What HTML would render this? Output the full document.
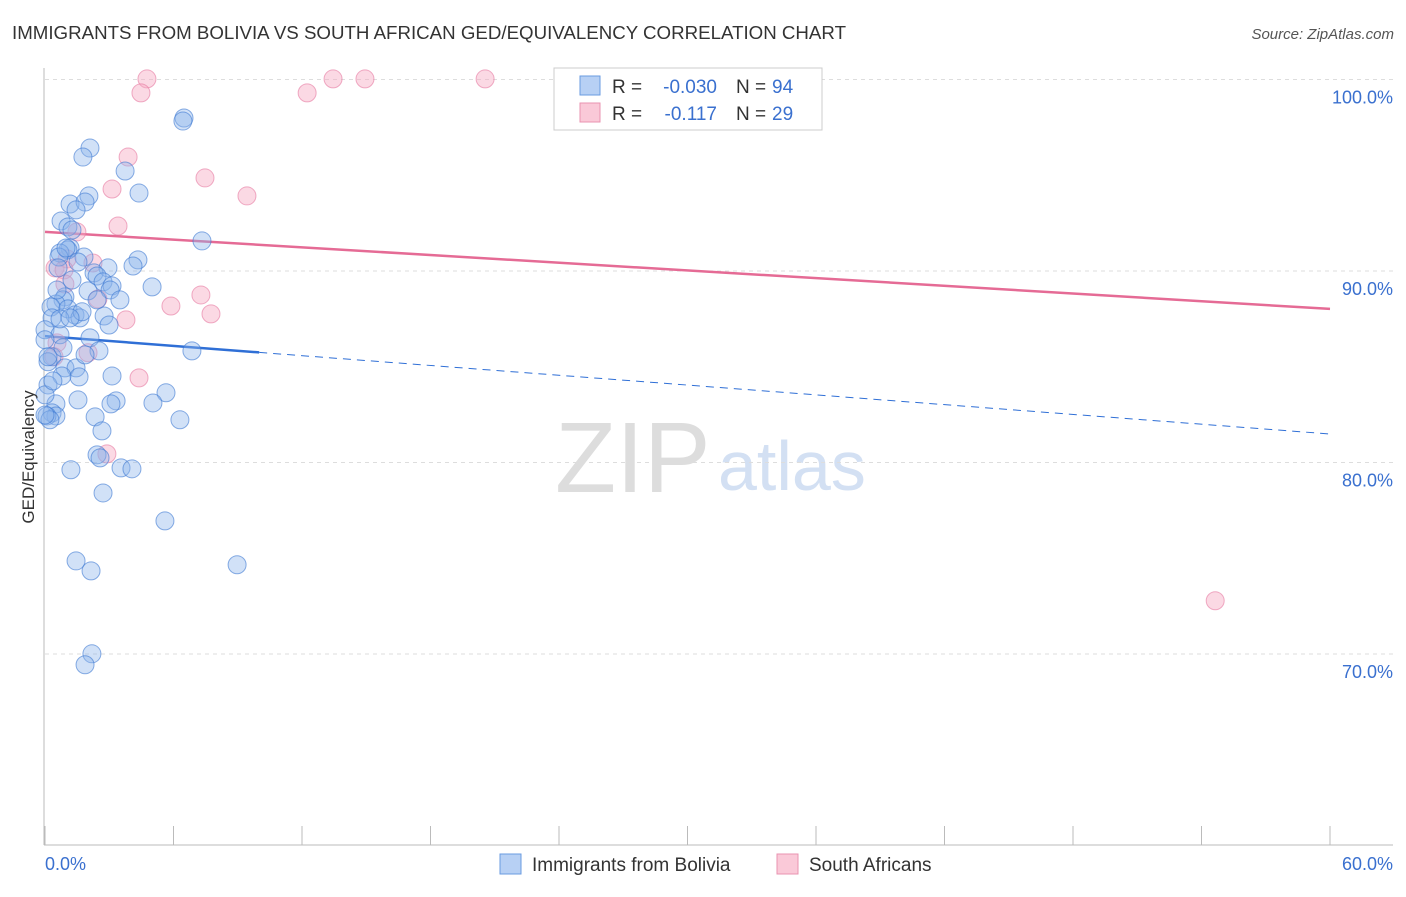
<!DOCTYPE html>
<html><head><meta charset="utf-8"><style>
body{margin:0;background:#fff;font-family:"Liberation Sans",sans-serif;}
svg text{font-family:"Liberation Sans",sans-serif;}
</style></head><body>
<svg id="chart" width="1406" height="892" viewBox="0 0 1406 892" xmlns="http://www.w3.org/2000/svg">
<text x="12" y="39" font-size="18" fill="#333" textLength="834" lengthAdjust="spacingAndGlyphs">IMMIGRANTS FROM BOLIVIA VS SOUTH AFRICAN GED/EQUIVALENCY CORRELATION CHART</text>
<text x="1394" y="39" font-size="15" fill="#555" text-anchor="end" font-style="italic">Source: ZipAtlas.com</text>
<text x="555" y="492" font-size="100" fill="#ddd" font-family="Liberation Serif">ZIP</text>
<text x="718" y="490" font-size="70" fill="#d3e0f3">atlas</text>
<g id="grid"></g><g id="axes"></g><g id="trend"></g><g id="points"></g>
<text transform="translate(34,457) rotate(-90)" font-size="17" fill="#333" text-anchor="middle">GED/Equivalency</text>
<g>
<rect x="554" y="68" width="268" height="62" fill="#fff" stroke="#ccc"/>
<rect x="580" y="76" width="20" height="19" fill="#b7d0f4" stroke="#6a9be0"/>
<rect x="580" y="103" width="20" height="19" fill="#fac9d8" stroke="#e993b0"/>
<text x="612" y="93" font-size="19" fill="#333">R =</text>
<text x="717" y="93" font-size="19" fill="#3a70cf" text-anchor="end">-0.030</text>
<text x="736" y="93" font-size="19" fill="#333">N =</text>
<text x="772" y="93" font-size="19" fill="#3a70cf">94</text>
<text x="612" y="120" font-size="19" fill="#333">R =</text>
<text x="717" y="120" font-size="19" fill="#3a70cf" text-anchor="end">-0.117</text>
<text x="736" y="120" font-size="19" fill="#333">N =</text>
<text x="772" y="120" font-size="19" fill="#3a70cf">29</text>
</g>
<g>
<rect x="500" y="854" width="21" height="20" fill="#b7d0f4" stroke="#6a9be0"/>
<text x="532" y="871" font-size="19" fill="#333">Immigrants from Bolivia</text>
<rect x="777" y="854" width="21" height="20" fill="#fac9d8" stroke="#e993b0"/>
<text x="809" y="871" font-size="19" fill="#333">South Africans</text>
</g>
</svg>
<script>
const blueX=[6.49,6.44,2.10,1.77,3.74,4.39,2.05,1.17,1.87,1.45,0.75,1.07,1.26,7.33,1.17,1.07,0.70,0.65,1.82,4.34,4.11,2.94,2.29,2.43,1.26,2.71,3.13,5.00,0.93,0.84,0.51,0.28,1.07,1.40,1.63,2.76,2.99,1.73,0.33,0,0.70,2.10,2.52,6.86,0.33,0.14,0.93,1.45,1.59,0.79,3.13,5.65,5.04,3.32,3.08,1.54,0.51,0.33,0.51,2.34,6.30,2.66,2.43,2.57,3.55,4.06,1.21,2.71,5.60,1.45,2.15,8.97,2.19,1.87,0,0.14,0,0.37,2.01,0.70,0.09,1.87,1.17,0.56,3.04,2.43,1.54,0.98,0.23,0.14,0.84,0,0.61,3.50];
const blueY=[97.99,97.83,96.42,95.95,95.22,94.07,93.92,93.50,93.60,93.19,92.61,92.30,92.14,91.57,91.20,91.10,90.94,90.73,90.73,90.58,90.26,90.16,89.90,89.74,89.53,89.43,89.22,89.17,88.65,88.49,88.28,88.12,88.02,87.71,87.55,87.65,87.18,87.87,87.55,86.93,86.67,86.51,85.83,85.83,85.52,85.26,84.94,84.94,84.47,84.52,84.52,83.64,83.11,83.22,83.06,83.27,83.06,82.59,82.43,82.38,82.23,81.65,80.40,80.24,79.72,79.67,79.62,78.41,76.95,74.86,74.34,74.66,70.01,69.44,86.41,84.05,83.53,84.26,88.96,87.50,82.43,85.62,87.55,89.01,89.01,88.49,90.47,91.20,82.23,85.52,85.99,82.48,90.16,88.49];
const pinkX=[4.76,13.45,14.94,20.55,33.53,4.48,12.24,3.88,7.47,3.13,9.43,3.41,1.49,0.47,1.03,0.89,2.24,2.47,7.28,5.88,7.75,3.78,0.56,0.42,2.01,4.39,2.89,54.64,0.93];
const pinkY=[100.03,100.03,100.03,100.03,100.03,99.30,99.30,95.95,94.86,94.28,93.92,92.35,92.04,90.16,90.63,90.06,90.42,88.54,88.75,88.17,87.76,87.45,86.25,85.52,85.73,84.42,80.45,72.78,89.32];
const blueTrend=[86.6,-0.0852];
const pinkTrend=[92.04,-0.067];
const yTicks=[100,90,80,70];
const yTickLabels=["100.0%","90.0%","80.0%","70.0%"];
const xTicks=[0,6,12,18,24,30,36,42,48,54,60];
const xEndLabels=["0.0%","60.0%"];
const NS="http://www.w3.org/2000/svg";
const X0=45,X1=1330,XMAX=60,YT=79.5,YPER=19.15;
function sx(v){return X0+(v/XMAX)*(X1-X0);}
function sy(v){return YT+(100-v)*YPER;}
function mk(tag,attrs,parent){const e=document.createElementNS(NS,tag);for(const k in attrs)e.setAttribute(k,attrs[k]);document.getElementById(parent).appendChild(e);return e;}
yTicks.forEach((t,i)=>{
 const l=mk('line',{x1:45,x2:1393,y1:sy(t),y2:sy(t),stroke:'#ddd','stroke-dasharray':'4,4'},'grid');
 
 
 const tx=mk('text',{x:1393,y:sy(t)+24,'font-size':18,fill:'#3a70cf','text-anchor':'end'},'grid');
 tx.textContent=yTickLabels[i];
 
 
});
const ax=mk('line',{x1:44,x2:44,y1:68,y2:845,stroke:'#bbb'},'axes');


const bx=mk('line',{x1:44,x2:1393,y1:845,y2:845,stroke:'#bbb'},'axes');


xTicks.forEach(t=>{
 const l=mk('line',{x1:sx(t),x2:sx(t),y1:826,y2:845,stroke:'#bbb'},'axes');
 
 
});
const xl0=mk('text',{x:45,y:870,'font-size':18,fill:'#3a70cf'},'axes');xl0.textContent=xEndLabels[0];


const xl1=mk('text',{x:1393,y:870,'font-size':18,fill:'#3a70cf','text-anchor':'end'},'axes');xl1.textContent=xEndLabels[1];


function ty(tr,x){return tr[0]+tr[1]*x;}
const b1=mk('line',{x1:sx(0),y1:sy(ty(blueTrend,0)),x2:sx(10),y2:sy(ty(blueTrend,10)),stroke:'#2f6fd6','stroke-width':2.5},'trend');


const b2=mk('line',{x1:sx(10),y1:sy(ty(blueTrend,10)),x2:sx(60),y2:sy(ty(blueTrend,60)),stroke:'#2f6fd6','stroke-width':1,'stroke-dasharray':'8,6'},'trend');


const p1=mk('line',{x1:sx(0),y1:sy(ty(pinkTrend,0)),x2:sx(60),y2:sy(ty(pinkTrend,60)),stroke:'#e56b95','stroke-width':2.5},'trend');


pinkX.forEach((x,i)=>{
 const c=mk('circle',{cx:sx(x),cy:sy(pinkY[i]),r:9,fill:'rgba(246,170,195,0.45)',stroke:'rgba(230,120,160,0.6)'},'points');
 
 
});
blueX.forEach((x,i)=>{
 const c=mk('circle',{cx:sx(x),cy:sy(blueY[i]),r:9,fill:'rgba(140,180,235,0.4)',stroke:'rgba(60,120,210,0.6)'},'points');
 
 
});
</script>
</body></html>
